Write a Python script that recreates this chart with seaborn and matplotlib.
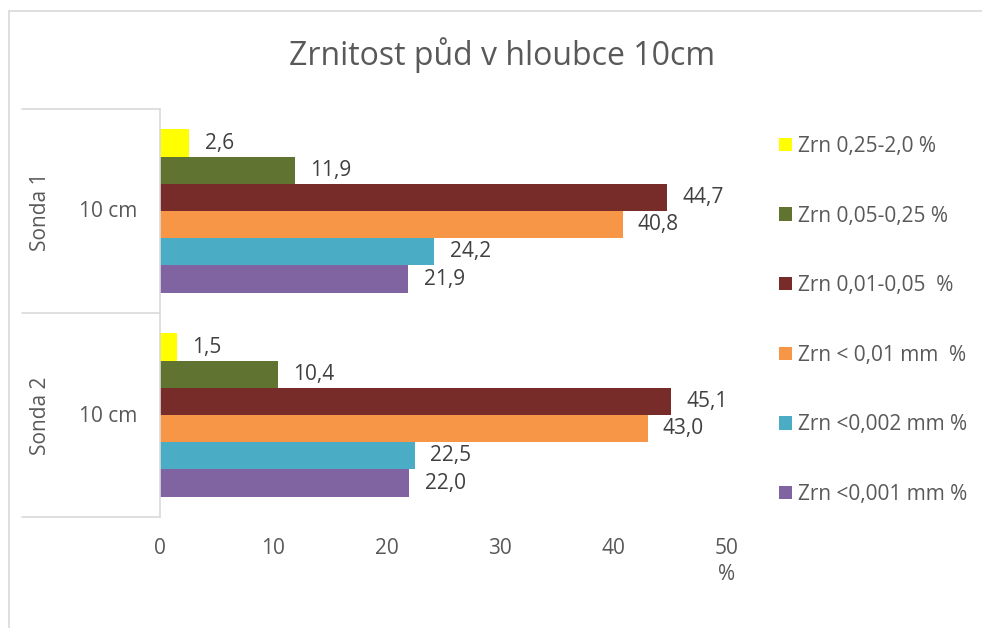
import matplotlib
matplotlib.use("Agg")
import matplotlib.pyplot as plt
from matplotlib.lines import Line2D
from matplotlib.patches import Patch
import seaborn as sns
import pandas as pd

# ---- data ----
groups = ["Sonda 1", "Sonda 2"]
depth_labels = ["10 cm", "10 cm"]
series = ["Zrn 0,25-2,0 %", "Zrn 0,05-0,25 %", "Zrn 0,01-0,05  %",
          "Zrn < 0,01 mm  %", "Zrn <0,002 mm %", "Zrn <0,001 mm %"]
sonda1 = [2.6, 11.9, 44.7, 40.8, 24.2, 21.9]
sonda2 = [1.5, 10.4, 45.1, 43.0, 22.5, 22.0]
colors = ["#FFFF00", "#617331", "#772C2A", "#F79646", "#4BACC6", "#8064A2"]
x_ticks = [0, 10, 20, 30, 40, 50]
title = "Zrnitost půd v hloubce 10cm"

rows = []
for g, vals in zip(groups, [sonda1, sonda2]):
    for s, v in zip(series, vals):
        rows.append({"group": g, "series": s, "value": v})
df = pd.DataFrame(rows)

sns.set_theme(style="white")
plt.rcParams["font.family"] = ["Open Sans", "DejaVu Sans"]

W, H = 982, 628
fig = plt.figure(figsize=(W / 100, H / 100), dpi=100)
fig.patch.set_facecolor("white")

def fx(px):
    return px / W

def fy(py):
    return 1 - py / H

ax = fig.add_axes([fx(160), fy(517), fx(727) - fx(160), fy(109) - fy(517)])

sns.barplot(data=df, x="value", y="group", hue="series", hue_order=series,
            palette=colors, orient="h", width=0.8, saturation=1,
            ax=ax, legend=False, linewidth=0)

ax.set_xlim(0, 50)
ax.set_ylim(1.5, -0.5)
ax.set_xticks(x_ticks)
ax.set_xticklabels([])
ax.set_yticks([])
ax.set_xlabel("")
ax.set_ylabel("")
for sp in ax.spines.values():
    sp.set_visible(False)
ax.tick_params(length=0)

txt_col = "#404040"
tick_col = "#595959"
line_col = "#D9D9D9"
FS = 15

# data labels
for cont in ax.containers:
    labels = [f"{b.get_width():.1f}".replace(".", ",") for b in cont]
    ax.bar_label(cont, labels=labels, padding=11, fontsize=FS, color=txt_col)

# x tick labels (below the plot area)
for t in x_ticks:
    xp = ax.transData.transform((t, 0))[0]
    fig.text(xp / W, fy(548), str(t), ha="center", va="center",
             fontsize=FS, color=tick_col)
xp50 = ax.transData.transform((50, 0))[0]
fig.text(xp50 / W, fy(574), "%", ha="center", va="center", fontsize=FS, color=tick_col)

# category axis boxes
fig.add_artist(Line2D([fx(160), fx(160)], [fy(109), fy(517)], color=line_col, lw=1.2))
for yy in [109, 313, 517]:
    fig.add_artist(Line2D([fx(22), fx(160)], [fy(yy), fy(yy)], color=line_col, lw=1.2))

for i, (g, d) in enumerate(zip(groups, depth_labels)):
    yc = (109 + 313) / 2 + i * 204 + 1
    fig.text(fx(40), fy(yc), g, rotation=90, ha="center", va="center",
             fontsize=FS, color=tick_col)
    fig.text(fx(108), fy(yc), d, ha="center", va="center",
             fontsize=FS, color=tick_col)

# outer chart border
fig.add_artist(Line2D([fx(9), fx(982)], [fy(11), fy(11)], color=line_col, lw=1.2))
fig.add_artist(Line2D([fx(9), fx(9)], [fy(11), fy(628)], color=line_col, lw=1.2))

# title
fig.text(fx(502), fy(55), title, ha="center", va="center", fontsize=23, color="#595959")

# legend
handles = [Patch(facecolor=c, edgecolor="none") for c in colors]
fig.legend(handles, series, loc="upper left", bbox_to_anchor=(fx(779), fy(136)),
           frameon=False, fontsize=FS, labelcolor=tick_col,
           handlelength=0.62, handleheight=0.62, handletextpad=0.3,
           labelspacing=2.33, borderaxespad=0, borderpad=0)

fig.savefig("out.png", dpi=100, facecolor="white")
